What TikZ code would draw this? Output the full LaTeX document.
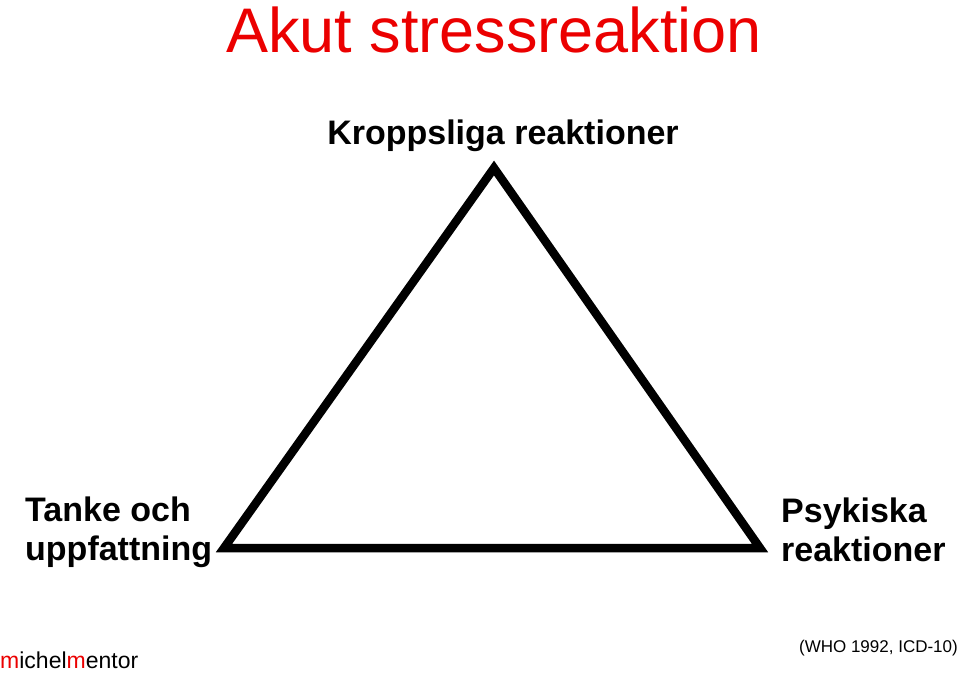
\documentclass[tikz,border=0pt]{standalone}
\usepackage{fontspec}
\setmainfont{Liberation Sans}
\usepackage{xcolor}
\usetikzlibrary{positioning}

\definecolor{titlered}{RGB}{235,0,0}

\begin{document}
\begin{tikzpicture}[
    x=1pt, y=-1pt,
    label/.style={inner sep=0pt, font=\fontsize{34}{39}\selectfont\bfseries, align=left},
    heading/.style={inner sep=0pt, font=\fontsize{63}{63}\selectfont, text=titlered},
    small/.style={inner sep=0pt, font=\fontsize{17}{17}\selectfont},
    edge/.style={line width=8.5pt, line join=miter}
]
    \useasboundingbox (0,0) rectangle (960,672);

    \node[heading, anchor=base] (title) at (494,52) {Akut stressreaktion};
    \node[label, anchor=base] (body) at (503,144) {Kroppsliga reaktioner};
    \node[label, anchor=north west] (mind) at (25,497) {Tanke och\\uppfattning};
    \node[label, anchor=north west] (psych) at (781,498) {Psykiska\\reaktioner};
    \node[small, anchor=base east] (source) at (958,652) {(WHO 1992, ICD-10)};
    \node[inner sep=0pt, font=\fontsize{23}{23}\selectfont, anchor=base west] (logo) at (0,668)
        {\textcolor{titlered}{m}ichel\textcolor{titlered}{m}entor};

    \coordinate (apex) at (494,168);
    \coordinate (left) at (224,548);
    \coordinate (right) at (760,548);

    \draw[edge] (apex) -- (right) -- (left) -- cycle;
\end{tikzpicture}
\end{document}
